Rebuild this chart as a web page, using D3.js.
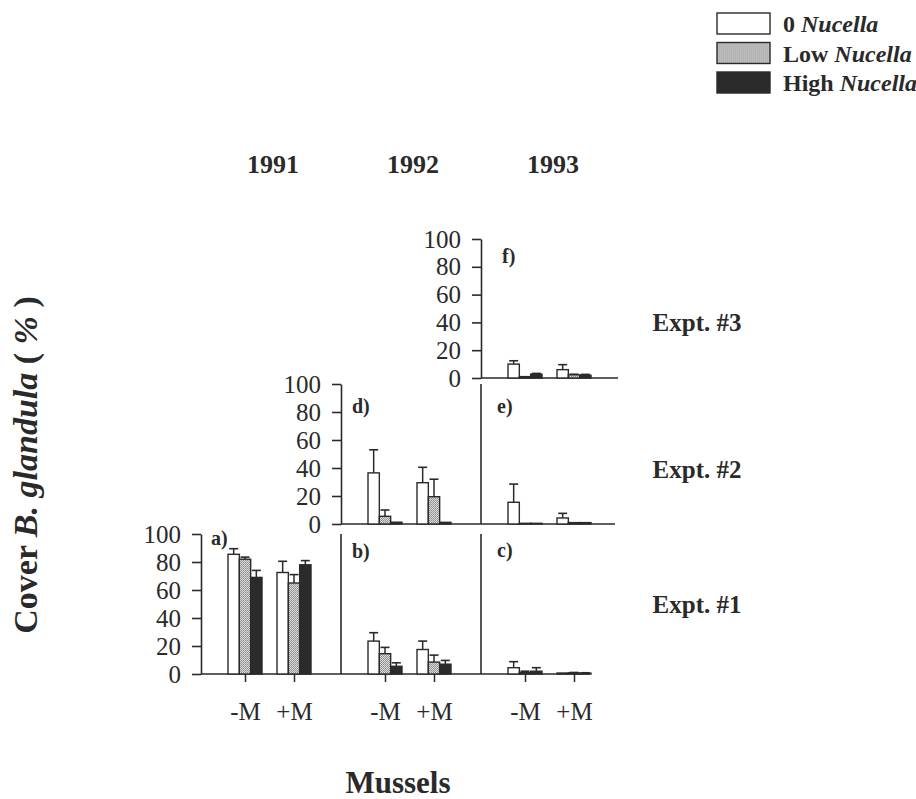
<!DOCTYPE html>
<html>
<head>
<meta charset="utf-8">
<script src="https://cdn.jsdelivr.net/npm/d3@7/dist/d3.min.js"></script>
<style>
  html, body { margin: 0; padding: 0; background: #fff; }
  svg { display: block; }
  text { font-family: "Liberation Serif", "Times New Roman", serif; fill: #2a2a2a; }
</style>
</head>
<body>
<svg id="chart" width="916" height="799"></svg>
<script>
// ---- data ----
const years = ["1991", "1992", "1993"];
const experiments = ["Expt. #1", "Expt. #2", "Expt. #3"];
const mussels = ["-M", "+M"];
const treatments = ["0", "Low", "High"];
const yTicks = [0, 20, 40, 60, 80, 100];

// mean cover (%) per mussel level [-M, +M], each ordered 0 / Low / High Nucella
const meanA = [[85.5, 82, 69], [72.5, 65, 78]];
const errA  = [[4, 1.5, 5], [8, 6, 3]];
const meanB = [[23.5, 14.5, 5.5], [17.5, 8.5, 7]];
const errB  = [[6, 4.5, 2.5], [6, 5, 2.7]];
const meanC = [[4.5, 1, 2], [0.7, 0.8, 0.6]];
const errC  = [[4.3, 1, 2.5], [0, 0.3, 0.3]];
const meanD = [[36.5, 5.5, 1.3], [29.5, 19.5, 1.2]];
const errD  = [[16.5, 4.5, 0], [11, 12.5, 0]];
const meanE = [[15.5, 0.5, 0.5], [4.3, 1, 1]];
const errE  = [[13, 0, 0], [3.3, 0, 0]];
const meanF = [[10, 1, 2.8], [6, 2.3, 2]];
const errF  = [[2.4, 0, 0.5], [3.6, 0.4, 0.6]];

const panels = [
  { tag: "a)", year: 0, expt: 0, mean: meanA, err: errA },
  { tag: "b)", year: 1, expt: 0, mean: meanB, err: errB },
  { tag: "c)", year: 2, expt: 0, mean: meanC, err: errC },
  { tag: "d)", year: 1, expt: 1, mean: meanD, err: errD },
  { tag: "e)", year: 2, expt: 1, mean: meanE, err: errE },
  { tag: "f)", year: 2, expt: 2, mean: meanF, err: errF }
];

// ---- layout ----
const ink = "#2a2a2a";
const rowLayout = [
  { base: 674, top: 534, labelY: 613, end: 590 },
  { base: 524, top: 384, labelY: 478, end: 615 },
  { base: 378, top: 239, labelY: 331, end: 618 }
];
const colX = d3.scaleLinear().domain([0, 2]).range([201, 481]);
const tagOffset = [[10, 11], [11, 24], [16, 23], [11, 29], [16, 29], [21, 24]];

const svg = d3.select("#chart");

const defs = svg.append("defs");
const pat = defs.append("pattern")
  .attr("id", "stipple").attr("patternUnits", "userSpaceOnUse")
  .attr("width", 2).attr("height", 2);
pat.append("rect").attr("width", 2).attr("height", 2).attr("fill", "#dcdcdc");
pat.append("rect").attr("width", 1).attr("height", 1).attr("fill", "#8a8a8a");
pat.append("rect").attr("x", 1).attr("y", 1).attr("width", 1).attr("height", 1).attr("fill", "#9a9a9a");

const fills = { "0": "#ffffff", "Low": "url(#stipple)", "High": "#2b2b2b" };

const xGroup = d3.scalePoint().domain(mussels).range([44, 93]);
const xBar = d3.scaleBand().domain(treatments).range([-17, 17]).padding(0);

// baseline of each row
rowLayout.forEach((r, i) => {
  const firstCol = d3.min(panels.filter(p => p.expt === i), p => p.year);
  svg.append("line")
    .attr("x1", colX(firstCol)).attr("x2", r.end)
    .attr("y1", r.base).attr("y2", r.base)
    .attr("stroke", ink).attr("stroke-width", 1.6);
});

panels.forEach((p, idx) => {
  const r = rowLayout[p.expt];
  const y = d3.scaleLinear().domain([0, 100]).range([r.base, r.top]);
  const x0 = colX(p.year);
  const g = svg.append("g").attr("transform", `translate(${x0},0)`);

  const leftmost = !panels.some(q => q.expt === p.expt && q.year < p.year);
  if (leftmost) {
    const ax = g.append("g")
      .call(d3.axisLeft(y).tickValues(yTicks).tickSize(9).tickSizeOuter(0).tickPadding(11));
    ax.select(".domain").attr("stroke", ink).attr("stroke-width", 1.6);
    ax.selectAll(".tick line").attr("stroke", ink).attr("stroke-width", 1.6);
    ax.selectAll(".tick text")
      .attr("font-family", "Liberation Serif, serif")
      .attr("font-size", 25).attr("fill", ink);
  } else {
    g.append("line")
      .attr("x1", 0).attr("x2", 0).attr("y1", y(0)).attr("y2", y(100))
      .attr("stroke", ink).attr("stroke-width", 1.6);
  }

  // panel tag
  g.append("text")
    .attr("x", tagOffset[idx][0]).attr("y", r.top + tagOffset[idx][1])
    .attr("font-size", 20).attr("font-weight", "bold")
    .text(p.tag);

  // bars and error bars
  mussels.forEach((m, mi) => {
    treatments.forEach((t, ti) => {
      const v = p.mean[mi][ti];
      const e = p.err[mi][ti];
      const bx = xGroup(m) + xBar(t);
      const bw = xBar.bandwidth();
      const cx = bx + bw / 2;
      if (e > 0) {
        g.append("line")
          .attr("x1", cx).attr("x2", cx).attr("y1", y(v)).attr("y2", y(v + e))
          .attr("stroke", ink).attr("stroke-width", 1.5);
        g.append("line")
          .attr("x1", cx - 4.5).attr("x2", cx + 4.5).attr("y1", y(v + e)).attr("y2", y(v + e))
          .attr("stroke", ink).attr("stroke-width", 1.6);
      }
      g.append("rect")
        .attr("x", bx).attr("width", bw)
        .attr("y", y(v)).attr("height", y(0) - y(v))
        .attr("fill", fills[t]).attr("stroke", ink).attr("stroke-width", 1.4);
    });
  });

  // mussel treatment axis on the bottom row
  if (p.expt === 0) {
    const xa = g.append("g").attr("transform", `translate(0,${r.base})`)
      .call(d3.axisBottom(xGroup).tickSize(8).tickSizeOuter(0).tickPadding(20));
    xa.select(".domain").remove();
    xa.selectAll(".tick line").attr("stroke", ink).attr("stroke-width", 1.5);
    xa.selectAll(".tick text")
      .attr("font-family", "Liberation Serif, serif")
      .attr("font-size", 25).attr("fill", ink);
  }
});

// year headers
years.forEach((yr, i) => {
  svg.append("text")
    .attr("x", colX(i) + 72).attr("y", 173)
    .attr("text-anchor", "middle")
    .attr("font-size", 26).attr("font-weight", "bold")
    .text(yr);
});

// experiment labels
experiments.forEach((ex, i) => {
  svg.append("text")
    .attr("x", 697).attr("y", rowLayout[i].labelY)
    .attr("text-anchor", "middle")
    .attr("font-size", 25).attr("font-weight", "bold")
    .text(ex);
});

// axis titles
svg.append("text")
  .attr("x", 398).attr("y", 793)
  .attr("text-anchor", "middle")
  .attr("font-size", 31).attr("font-weight", "bold")
  .text("Mussels");

const yt = svg.append("text")
  .attr("transform", "translate(37,465) rotate(-90)")
  .attr("text-anchor", "middle")
  .attr("font-size", 34).attr("font-weight", "bold");
yt.append("tspan").text("Cover ");
yt.append("tspan").attr("font-style", "italic").text("B. glandula");
yt.append("tspan").text(" ( ");
yt.append("tspan").attr("font-style", "italic").text("%");
yt.append("tspan").text(" )");

// legend
const legendNames = ["0", "Low", "High"];
const leg = svg.append("g").attr("transform", "translate(717,13)");
legendNames.forEach((t, i) => {
  const row = leg.append("g").attr("transform", `translate(0,${i * 29.5})`);
  row.append("rect")
    .attr("width", 53).attr("height", 21)
    .attr("fill", fills[t]).attr("stroke", ink).attr("stroke-width", 1.4);
  const tx = row.append("text")
    .attr("x", 66).attr("y", 19)
    .attr("font-size", 24).attr("font-weight", "bold");
  tx.append("tspan").text(t + " ");
  tx.append("tspan").attr("font-style", "italic").text("Nucella");
});
</script>
</body>
</html>
